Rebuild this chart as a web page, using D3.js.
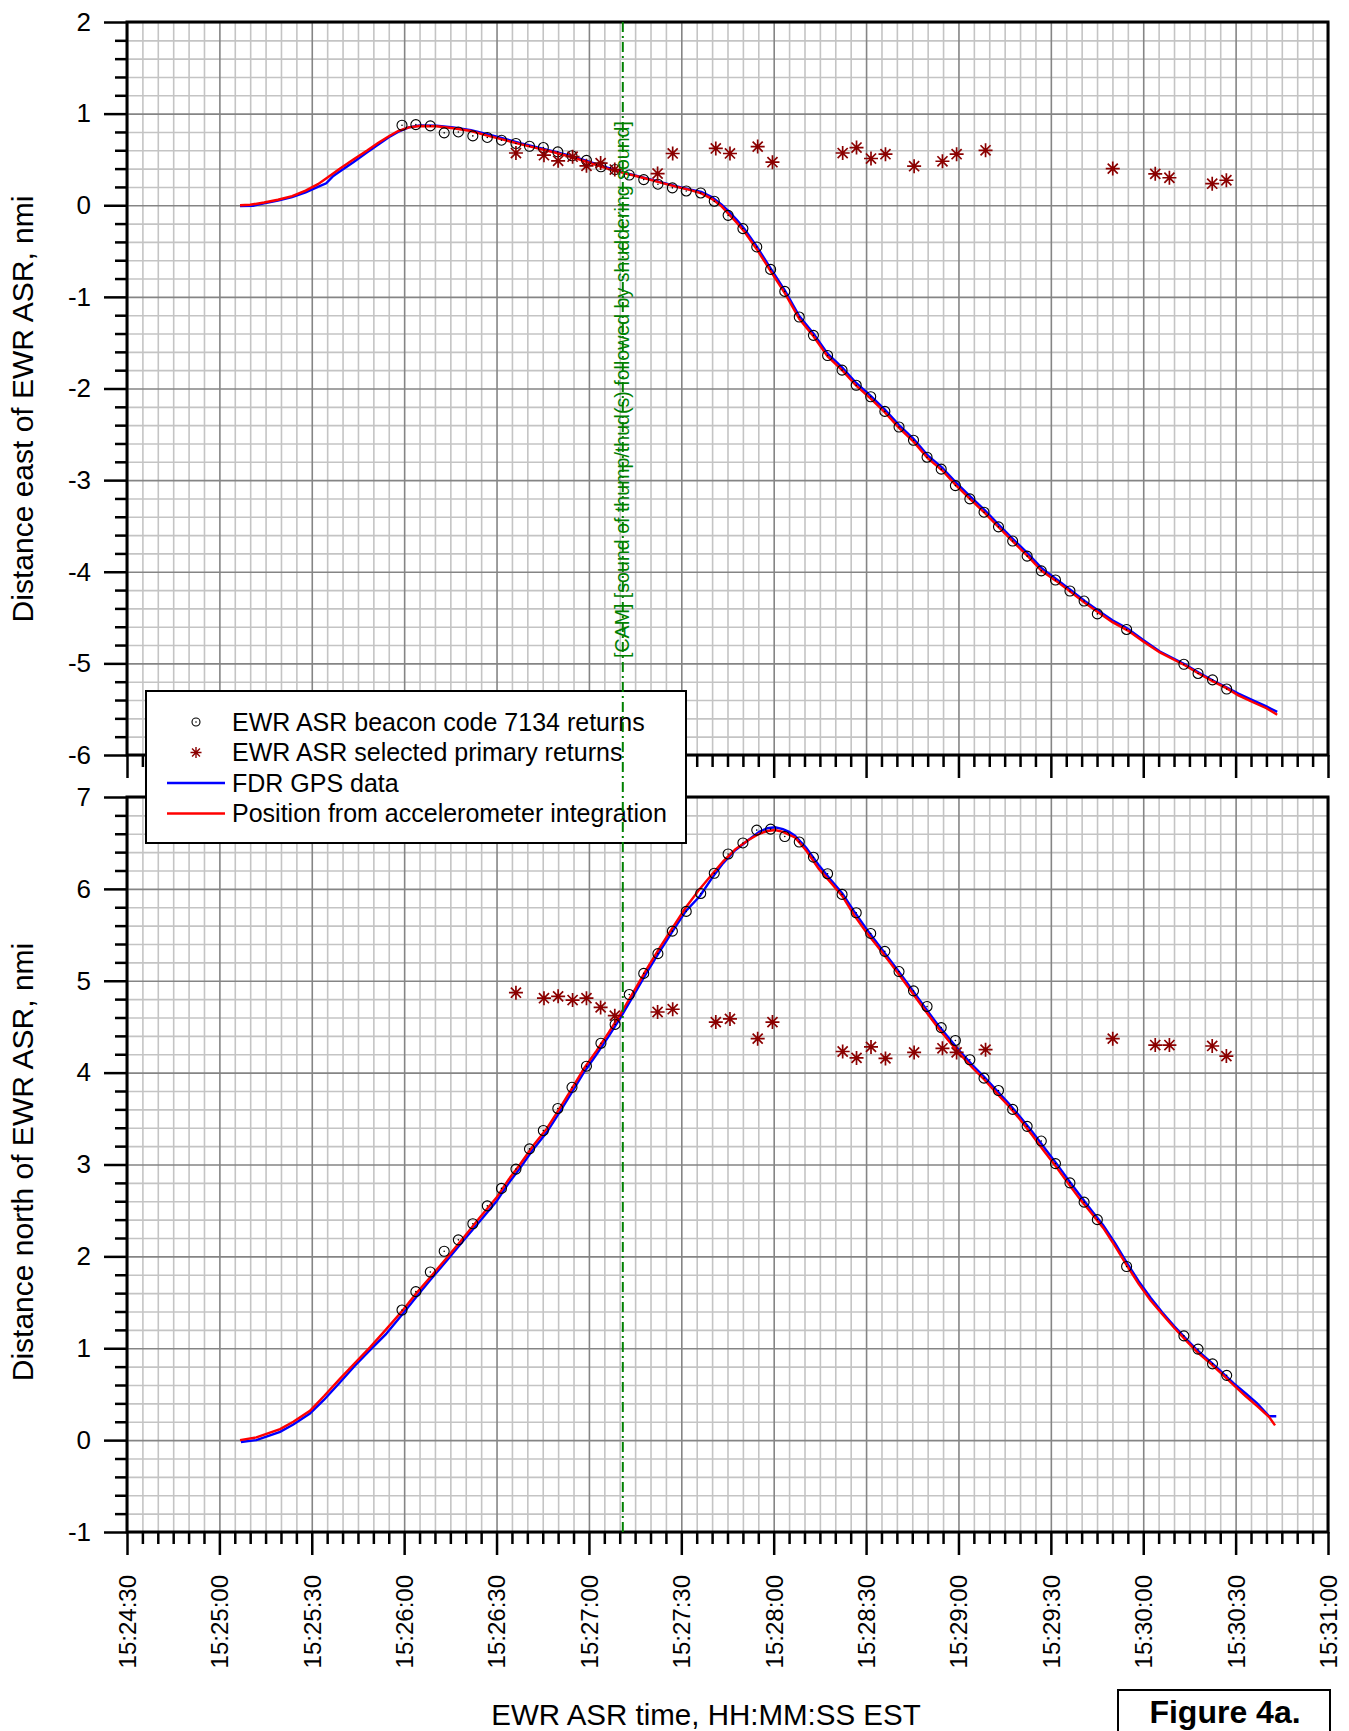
<!DOCTYPE html>
<html>
<head>
<meta charset="utf-8">
<script src="https://cdn.jsdelivr.net/npm/d3@7"></script>
<style>
  body { margin: 0; background: #fff; }
  svg { display: block; font-family: "Liberation Sans", Arial, sans-serif; }
</style>
</head>
<body>
<div id="chart"></div>
<script>
// all times are seconds after 15:24:30 EST (left edge of the time axis)
const axisStart = 15 * 3600 + 24 * 60 + 30;
const axisSpan = 390;
const camTime = 161;
const camText = '[CAM] [sound of thump/thud(s) followed by shuddering sound]';

// EWR ASR beacon code 7134 returns
const beaconTimes = [89.3, 93.8, 98.5, 103, 107.6, 112.3, 117, 121.6, 126.3, 130.7, 135.2, 139.9, 144.5, 149.2, 153.9, 158.5, 163.1, 167.8, 172.4, 177.1, 181.6, 186.3, 190.7, 195.2, 200, 204.5, 209, 213.6, 218.3, 222.9, 227.5, 232.2, 236.8, 241.5, 246.1, 250.7, 255.4, 259.8, 264.4, 269, 273.7, 278.3, 283, 287.6, 292.3, 296.9, 301.5, 306.2, 310.8, 315.1, 324.6, 343.2, 347.8, 352.5, 357.1];
const beaconEast = [0.873, 0.88, 0.866, 0.79, 0.80, 0.757, 0.74, 0.71, 0.674, 0.644, 0.63, 0.582, 0.54, 0.49, 0.42, 0.39, 0.33, 0.28, 0.23, 0.19, 0.156, 0.134, 0.044, -0.11, -0.255, -0.455, -0.70, -0.94, -1.22, -1.42, -1.64, -1.80, -1.965, -2.09, -2.25, -2.42, -2.565, -2.75, -2.88, -3.06, -3.205, -3.35, -3.51, -3.665, -3.83, -3.99, -4.09, -4.21, -4.32, -4.46, -4.63, -5.01, -5.11, -5.18, -5.28];
const beaconNorth = [1.416, 1.616, 1.83, 2.056, 2.18, 2.355, 2.55, 2.74, 2.95, 3.17, 3.37, 3.61, 3.84, 4.07, 4.32, 4.525, 4.85, 5.08, 5.295, 5.54, 5.755, 5.95, 6.17, 6.38, 6.50, 6.64, 6.65, 6.57, 6.51, 6.345, 6.165, 5.94, 5.74, 5.515, 5.32, 5.10, 4.89, 4.72, 4.49, 4.35, 4.14, 3.94, 3.805, 3.60, 3.415, 3.255, 3.01, 2.80, 2.59, 2.40, 1.89, 1.135, 0.99, 0.83, 0.705];

// EWR ASR selected primary returns
const primaryTimes = [126.3, 135.4, 140, 144.7, 149.2, 153.8, 158.4, 172.3, 177.2, 191.2, 195.8, 204.8, 209.6, 232.4, 236.9, 241.6, 246.3, 255.6, 264.8, 269.4, 278.8, 320.1, 333.9, 338.5, 352.4, 357];
const primaryEast = [0.57, 0.546, 0.485, 0.53, 0.43, 0.46, 0.39, 0.346, 0.565, 0.62, 0.565, 0.64, 0.47, 0.57, 0.63, 0.51, 0.557, 0.426, 0.48, 0.557, 0.60, 0.40, 0.343, 0.30, 0.235, 0.273];
const primaryNorth = [4.87, 4.81, 4.83, 4.79, 4.81, 4.71, 4.62, 4.66, 4.69, 4.55, 4.585, 4.37, 4.55, 4.23, 4.16, 4.28, 4.155, 4.22, 4.265, 4.22, 4.25, 4.37, 4.30, 4.30, 4.29, 4.18];

// FDR GPS data [time, nmi]
const gpsEast = [[36.7,-0.01],[41,-0.005],[44.5,0.02],[49,0.05],[53.6,0.09],[58,0.14],[62,0.2],[64.7,0.24],[67,0.32],[69.2,0.37],[73.5,0.47],[78.1,0.58],[81.5,0.66],[84.9,0.74],[88,0.80],[91.5,0.85],[95,0.87],[100.5,0.868],[106,0.85],[111.7,0.82],[117,0.775],[122.8,0.725],[128,0.675],[134,0.625],[139.5,0.58],[145,0.53],[150.5,0.47],[156,0.41],[161.5,0.355],[167.5,0.305],[173,0.255],[178.6,0.205],[183,0.17],[186.5,0.145],[189.9,0.09],[193,0.01],[195.5,-0.07],[198,-0.16],[200.5,-0.26],[204.5,-0.45],[209,-0.69],[213.6,-0.93],[218.3,-1.21],[222.9,-1.40],[227.5,-1.62],[232.2,-1.77],[236.8,-1.94],[241.5,-2.08],[246.1,-2.23],[250.7,-2.40],[255.4,-2.55],[260,-2.73],[264.6,-2.86],[269.3,-3.03],[273.9,-3.18],[278.6,-3.33],[283.2,-3.49],[287.8,-3.645],[292.5,-3.80],[297,-3.96],[301.7,-4.08],[306.4,-4.20],[311,-4.32],[315.7,-4.43],[320,-4.53],[324.9,-4.62],[330,-4.745],[335.4,-4.87],[340,-4.95],[343.5,-5.01],[348,-5.10],[352.8,-5.19],[357,-5.26],[360.9,-5.33],[366,-5.41],[370,-5.47],[373.5,-5.53]];
const gpsNorth = [[37,-0.02],[42,0.0],[49.7,0.09],[54,0.17],[59.4,0.29],[64,0.44],[69.2,0.63],[74,0.81],[78.9,0.98],[84,1.15],[89.7,1.38],[94,1.56],[98.4,1.74],[104,1.96],[109.2,2.17],[114.5,2.38],[120,2.60],[124,2.80],[127.6,2.96],[132,3.17],[136.3,3.35],[140.5,3.57],[144.9,3.81],[148.5,4.01],[152.5,4.20],[156.5,4.40],[160.1,4.59],[164.5,4.84],[168.8,5.09],[173,5.32],[177.4,5.55],[181.5,5.76],[186,5.92],[190,6.12],[193.6,6.28],[197.5,6.42],[201.7,6.53],[205.3,6.62],[208,6.66],[210.4,6.67],[213,6.65],[215,6.62],[216.9,6.58],[220.5,6.45],[224.6,6.26],[228.5,6.10],[232.3,5.95],[236,5.76],[240,5.57],[243.8,5.40],[247.7,5.23],[251.5,5.06],[255.4,4.88],[259.3,4.70],[263.1,4.53],[267,4.37],[270.8,4.22],[274.6,4.08],[278.5,3.95],[282.3,3.81],[286.2,3.67],[290,3.52],[293.9,3.36],[297.7,3.19],[301.6,3.02],[305.5,2.84],[309.3,2.67],[313.2,2.50],[317,2.34],[320.9,2.14],[324.7,1.93],[328.5,1.73],[332.4,1.55],[336.2,1.39],[340.1,1.24],[344,1.10],[347.8,0.97],[351.6,0.86],[355.5,0.74],[359.3,0.62],[363.2,0.51],[367,0.40],[370.9,0.26],[373.2,0.26]];

// Position from accelerometer integration [time, nmi]
const accelEast = [[36.7,0],[40,0.005],[44.5,0.03],[49,0.06],[53.6,0.1],[58,0.16],[62,0.23],[65,0.3],[69.2,0.40],[73.5,0.50],[78.1,0.60],[81.5,0.68],[84.9,0.75],[88,0.81],[91.5,0.85],[95,0.865],[100.5,0.862],[106,0.84],[111.7,0.81],[117,0.76],[122.8,0.71],[128,0.665],[134,0.615],[139.5,0.57],[145,0.52],[150.5,0.46],[156,0.40],[161.5,0.35],[167.5,0.30],[173,0.25],[178.6,0.20],[183,0.165],[186.5,0.13],[189.9,0.07],[193,-0.01],[195.5,-0.10],[198,-0.19],[200.5,-0.29],[204.5,-0.48],[209,-0.72],[213.6,-0.96],[218.3,-1.24],[222.9,-1.43],[227.5,-1.65],[232.2,-1.80],[236.8,-1.97],[241.5,-2.11],[246.1,-2.26],[250.7,-2.43],[255.4,-2.58],[260,-2.76],[264.6,-2.89],[269.3,-3.06],[273.9,-3.21],[278.6,-3.36],[283.2,-3.52],[287.8,-3.675],[292.5,-3.83],[297,-3.99],[301.7,-4.10],[306.4,-4.22],[311,-4.34],[315.7,-4.45],[320,-4.55],[324.9,-4.64],[330,-4.76],[335.4,-4.88],[340,-4.96],[343.5,-5.02],[348,-5.11],[352.8,-5.20],[357,-5.27],[360.9,-5.35],[366,-5.43],[370,-5.49],[373.5,-5.56]];
const accelNorth = [[36.7,0.0],[42,0.03],[49.7,0.12],[54,0.2],[59.4,0.32],[64,0.48],[69.2,0.67],[74,0.84],[78.9,1.01],[84,1.2],[89.7,1.42],[94,1.6],[98.4,1.77],[104,1.99],[109.2,2.20],[114.5,2.42],[120,2.64],[124,2.84],[127.6,3.00],[132,3.21],[136.3,3.39],[140.5,3.61],[144.9,3.85],[148.5,4.05],[152.5,4.24],[156.5,4.44],[160.1,4.63],[164.5,4.88],[168.8,5.13],[173,5.36],[177.4,5.59],[181.5,5.80],[186,6.0],[190,6.16],[193.6,6.30],[197.5,6.43],[201.7,6.53],[205.3,6.60],[208,6.63],[210.4,6.64],[213,6.62],[216.9,6.56],[220.5,6.42],[224.6,6.22],[228.5,6.07],[232.3,5.92],[236,5.72],[240,5.53],[243.8,5.37],[247.7,5.20],[251.5,5.03],[255.4,4.85],[259.3,4.67],[263.1,4.50],[267,4.34],[270.8,4.19],[274.6,4.05],[278.5,3.92],[282.3,3.78],[286.2,3.64],[290,3.49],[293.9,3.32],[297.7,3.15],[301.6,2.98],[305.5,2.80],[309.3,2.63],[313.2,2.47],[317,2.31],[320.9,2.11],[324.7,1.90],[328.5,1.70],[332.4,1.52],[336.2,1.37],[340.1,1.22],[344,1.08],[347.8,0.95],[351.6,0.84],[355.5,0.72],[359.3,0.60],[363.2,0.48],[367,0.37],[370.9,0.25],[372.8,0.16]];

const legendLabels = ['EWR ASR beacon code 7134 returns', 'EWR ASR selected primary returns', 'FDR GPS data', 'Position from accelerometer integration'];

const W = 1349, H = 1731;
const left = 127, right = 1328;
const starColor = '#8b0000';

const pad2 = n => String(n).padStart(2, '0');
const clock = s => {
  const t = Math.round(axisStart + s);
  return `${Math.floor(t / 3600)}:${pad2(Math.floor(t / 60) % 60)}:${pad2(t % 60)}`;
};

const svg = d3.select('#chart').append('svg')
  .attr('width', W)
  .attr('height', H);
svg.append('rect').attr('width', W).attr('height', H).attr('fill', '#fff');

const x = d3.scaleLinear().domain([0, axisSpan]).range([left, right]);

const xMajor = d3.range(0, axisSpan + 1, 30);
const xMinor = d3.range(0, axisSpan + 1, 5).filter(v => v % 30 !== 0);

function starPath(s) {
  const k = s * 0.72;
  return `M${-s},0L${s},0M0,${-s}L0,${s}M${-k},${-k}L${k},${k}M${-k},${k}L${k},${-k}`;
}

const panels = [
  { top: 22, bottom: 755, domain: [-6, 2], title: 'Distance east of EWR ASR, nmi', titleY: 409,
    gps: gpsEast, acc: accelEast, beacon: beaconEast, primary: primaryEast, labels: false },
  { top: 797, bottom: 1532, domain: [-1, 7], title: 'Distance north of EWR ASR, nmi', titleY: 1162,
    gps: gpsNorth, acc: accelNorth, beacon: beaconNorth, primary: primaryNorth, labels: true }
];

panels.forEach(p => {
  const y = d3.scaleLinear().domain(p.domain).range([p.bottom, p.top]);
  const h = p.bottom - p.top;
  const yMajor = d3.range(p.domain[0], p.domain[1] + 1);
  const yMinor = d3.range(p.domain[0] * 5, p.domain[1] * 5 + 1).filter(k => k % 5 !== 0).map(k => k / 5);
  const g = svg.append('g');

  // grid: minor then major
  const grid = (sel, color) => sel.call(s => s.select('.domain').remove())
    .selectAll('line').attr('stroke', color).attr('stroke-width', 1.6);
  g.append('g').attr('transform', `translate(0,${p.bottom})`)
    .call(d3.axisBottom(x).tickValues(xMinor).tickSize(-h).tickFormat(''))
    .call(grid, '#c4c4c4');
  g.append('g').attr('transform', `translate(${left},0)`)
    .call(d3.axisLeft(y).tickValues(yMinor).tickSize(-(right - left)).tickFormat(''))
    .call(grid, '#c4c4c4');
  g.append('g').attr('transform', `translate(0,${p.bottom})`)
    .call(d3.axisBottom(x).tickValues(xMajor).tickSize(-h).tickFormat(''))
    .call(grid, '#858585');
  g.append('g').attr('transform', `translate(${left},0)`)
    .call(d3.axisLeft(y).tickValues(yMajor).tickSize(-(right - left)).tickFormat(''))
    .call(grid, '#858585');

  // series
  const line = d3.line().x(d => x(d[0])).y(d => y(d[1]));
  g.append('path').datum(p.gps).attr('d', line)
    .attr('fill', 'none').attr('stroke', '#0000ff').attr('stroke-width', 2.4);
  g.append('path').datum(p.acc).attr('d', line)
    .attr('fill', 'none').attr('stroke', '#ff0000').attr('stroke-width', 2.4);

  const beacons = g.append('g').selectAll('g')
    .data(beaconTimes.map((t, i) => [t, p.beacon[i]]))
    .join('g')
    .attr('transform', d => `translate(${x(d[0])},${y(d[1])})`);
  beacons.append('circle').attr('r', 5).attr('fill', 'none').attr('stroke', '#000').attr('stroke-width', 1.1);
  beacons.append('circle').attr('r', 0.8).attr('fill', '#000');

  g.append('g').selectAll('path')
    .data(primaryTimes.map((t, i) => [t, p.primary[i]]))
    .join('path')
    .attr('transform', d => `translate(${x(d[0])},${y(d[1])})`)
    .attr('d', starPath(7))
    .attr('fill', 'none').attr('stroke', starColor).attr('stroke-width', 1.7);

  // axes
  const tickStyle = s => s.select('.domain').remove();
  g.append('g').attr('transform', `translate(${left},0)`)
    .call(d3.axisLeft(y).tickValues(yMinor).tickSize(12).tickFormat(''))
    .call(tickStyle)
    .selectAll('line').attr('stroke', '#000').attr('stroke-width', 2.5);
  const yAx = g.append('g').attr('transform', `translate(${left},0)`)
    .call(d3.axisLeft(y).tickValues(yMajor).tickSize(23).tickPadding(13).tickFormat(d => String(d)))
    .call(tickStyle);
  yAx.selectAll('line').attr('stroke', '#000').attr('stroke-width', 2.5);
  yAx.selectAll('text').attr('font-size', 26).attr('fill', '#000');

  g.append('g').attr('transform', `translate(0,${p.bottom})`)
    .call(d3.axisBottom(x).tickValues(xMinor).tickSize(12).tickFormat(''))
    .call(tickStyle)
    .selectAll('line').attr('stroke', '#000').attr('stroke-width', 2.5);
  const xAx = g.append('g').attr('transform', `translate(0,${p.bottom})`)
    .call(d3.axisBottom(x).tickValues(xMajor).tickSize(23).tickFormat(p.labels ? clock : ''))
    .call(tickStyle);
  xAx.selectAll('line').attr('stroke', '#000').attr('stroke-width', 2.5);
  xAx.selectAll('text')
    .attr('transform', 'rotate(-90)')
    .attr('text-anchor', 'end')
    .attr('x', -43).attr('y', 0).attr('dy', '0.35em')
    .attr('font-size', 24).attr('fill', '#000');

  // frame
  g.append('rect')
    .attr('x', left).attr('y', p.top)
    .attr('width', right - left).attr('height', h)
    .attr('fill', 'none').attr('stroke', '#000').attr('stroke-width', 3);

  svg.append('text')
    .attr('transform', `translate(33,${p.titleY}) rotate(-90)`)
    .attr('text-anchor', 'middle')
    .attr('font-size', 30)
    .text(p.title);
});

// legend
const lg = svg.append('g').attr('transform', 'translate(146,691)');
lg.append('rect').attr('width', 540).attr('height', 152)
  .attr('fill', '#fff').attr('stroke', '#000').attr('stroke-width', 2);
const rowY = i => 31 + i * 30.5;
lg.append('circle').attr('cx', 50).attr('cy', rowY(0)).attr('r', 4)
  .attr('fill', 'none').attr('stroke', '#000').attr('stroke-width', 1.1);
lg.append('circle').attr('cx', 50).attr('cy', rowY(0)).attr('r', 0.8).attr('fill', '#000');
lg.append('path').attr('transform', `translate(50,${rowY(1)})`).attr('d', starPath(5.5))
  .attr('fill', 'none').attr('stroke', starColor).attr('stroke-width', 1.4);
lg.append('line').attr('x1', 21).attr('x2', 79).attr('y1', rowY(2)).attr('y2', rowY(2))
  .attr('stroke', '#0000ff').attr('stroke-width', 2.4);
lg.append('line').attr('x1', 21).attr('x2', 79).attr('y1', rowY(3)).attr('y2', rowY(3))
  .attr('stroke', '#ff0000').attr('stroke-width', 2.4);
lg.selectAll('text.lab').data(legendLabels).join('text')
  .attr('class', 'lab')
  .attr('x', 86).attr('y', (d, i) => rowY(i)).attr('dy', '0.35em')
  .attr('font-size', 25)
  .text(d => d);

// CVR event marker spanning both panels
svg.append('line')
  .attr('x1', x(camTime)).attr('x2', x(camTime))
  .attr('y1', panels[0].top).attr('y2', panels[1].bottom)
  .attr('stroke', '#008000').attr('stroke-width', 2)
  .attr('stroke-dasharray', '10,4,2,4');
svg.append('text')
  .attr('transform', `translate(${x(camTime) + 6},658) rotate(-90)`)
  .attr('font-size', 19.6)
  .attr('fill', '#008000')
  .text(camText);

svg.append('text')
  .attr('x', 706).attr('y', 1725)
  .attr('text-anchor', 'middle')
  .attr('font-size', 29.5)
  .text('EWR ASR time, HH:MM:SS EST');

// figure tag at the bottom edge
svg.append('rect').attr('x', 1118).attr('y', 1690).attr('width', 212).attr('height', 70)
  .attr('fill', '#fff').attr('stroke', '#000').attr('stroke-width', 2);
svg.append('text')
  .attr('x', 1225).attr('y', 1723)
  .attr('text-anchor', 'middle')
  .attr('font-size', 32).attr('font-weight', 'bold')
  .text('Figure 4a.');
</script>
</body>
</html>
